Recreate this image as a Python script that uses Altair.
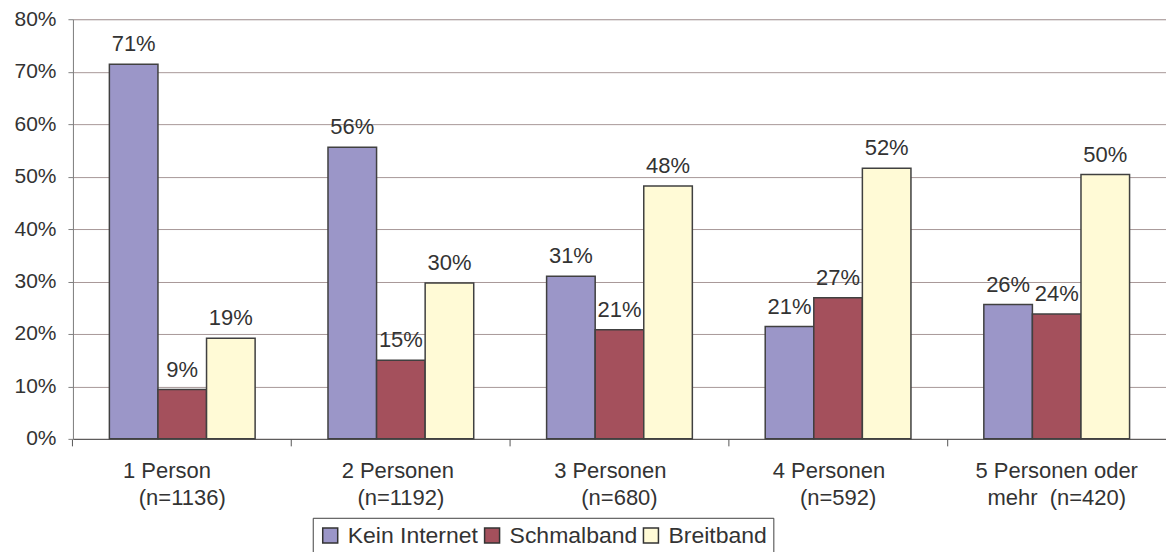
import altair as alt
import pandas as pd

NB = "\u00a0"
ZW = "\u200b"
line1 = ["1 Person" + NB * 5 + ZW, "2 Personen" + NB + ZW, "3 Personen" + NB * 3 + ZW,
         "4 Personen" + NB * 3 + ZW, "5 Personen oder"]
line2 = ["(n=1136)", "(n=1192)", "(n=680)", "(n=592)", "mehr" + NB + " (n=420)"]
categories = [a + "|" + b for a, b in zip(line1, line2)]

series = ["Kein Internet", "Schmalband", "Breitband"]
kein_internet = [71.4, 55.6, 31.0, 21.4, 25.6]
schmalband = [9.4, 15.0, 20.8, 26.9, 23.8]
breitband = [19.2, 29.7, 48.2, 51.6, 50.4]
colors = ["#9B96C8", "#A4505C", "#FFFAD6"]

rows = []
for i, c in enumerate(categories):
    for s, vals in zip(series, [kein_internet, schmalband, breitband]):
        rows.append({"cat": c, "series": s, "value": vals[i]})
df = pd.DataFrame(rows)

FONT = "Liberation Sans"
TXT = "#333333"

x = alt.X(
    "cat:N", sort=categories, title=None,
    scale=alt.Scale(paddingInner=1 / 3, paddingOuter=1 / 6),
    axis=alt.Axis(
        labelAngle=0, labelExpr="split(datum.label, '|')",
        labelFont=FONT, labelFontSize=22, labelColor=TXT, labelLineHeight=27,
        labelPadding=15, tickSize=7, tickColor="#555555", domainColor="#505050",
        bandPosition=-0.25, labelOverlap=False, labelBound=False,
        labelFlush=False, grid=False,
    ),
)
xoff = alt.XOffset("series:N", sort=series, scale=alt.Scale(paddingInner=0, paddingOuter=0))
y = alt.Y(
    "value:Q", title=None,
    scale=alt.Scale(domain=[0, 80], nice=False),
    axis=alt.Axis(
        values=[0, 10, 20, 30, 40, 50, 60, 70, 80], labelExpr="datum.value + '%'",
        labelFont=FONT, labelFontSize=21, labelColor=TXT, labelPadding=12,
        tickSize=5, tickColor="#808080", domainColor="#808080",
        gridColor="#A89898", gridWidth=1,
    ),
)

bars = alt.Chart(df).mark_bar(stroke="#404040", strokeWidth=1.5).encode(
    x=x, xOffset=xoff, y=y,
    color=alt.Color(
        "series:N", sort=series,
        scale=alt.Scale(domain=series, range=colors),
        legend=alt.Legend(
            title=None, orient="none", legendX=240, legendY=499, direction="horizontal",
            symbolType="square", symbolSize=225, symbolStrokeColor="#333333",
            symbolStrokeWidth=1.5, symbolOpacity=1,
            labelFont=FONT, labelFontSize=23, labelColor=TXT, labelOffset=6,
            columnPadding=2, padding=6, strokeColor="#404040", fillColor="white",
        ),
    ),
)

labels = alt.Chart(df).transform_calculate(
    lab="format(datum.value, '.0f') + '%'"
).mark_text(font=FONT, fontSize=22, color=TXT, baseline="alphabetic", dy=-13).encode(
    x=x, xOffset=xoff, y=y, text="lab:N"
)

chart = (bars + labels).properties(
    width=1094, height=420,
    padding={"left": 5, "top": 0, "right": 0, "bottom": 0},
).configure_view(stroke=None).configure(background="white")

chart.save("out.html", embed_options={"renderer": "svg", "actions": False})
